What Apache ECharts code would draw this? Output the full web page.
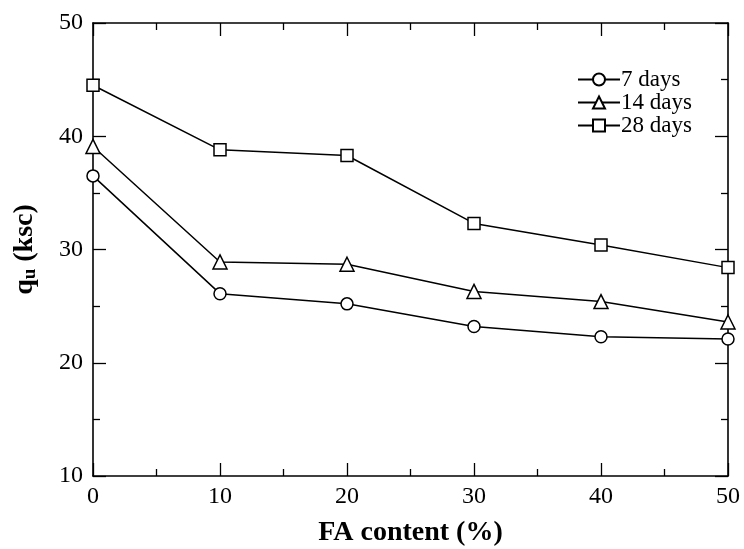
<!DOCTYPE html>
<html>
<head>
<meta charset="utf-8">
<script src="https://cdn.jsdelivr.net/npm/echarts@6/dist/echarts.min.js"></script>
<style>html,body{margin:0;padding:0;background:#fff;}#c{width:744px;height:549px;}</style>
</head>
<body>
<div id="c"></div>
<script>
var categories = [0, 10, 20, 30, 40, 50];
var days7 = [36.5, 26.1, 25.2, 23.2, 22.3, 22.1];
var days14 = [39.1, 28.9, 28.7, 26.3, 25.4, 23.6];
var days28 = [44.5, 38.8, 38.3, 32.3, 30.4, 28.4];
var seriesNames = ['7 days', '14 days', '28 days'];

function pairs(vals) { return categories.map(function (c, i) { return [c, vals[i]]; }); }

var font = 'Liberation Serif, Times New Roman, serif';
var axisCommon = {
  axisLine: { show: true, onZero: false, lineStyle: { color: '#000', width: 1.6 } },
  axisTick: { show: true, inside: true, length: 13, lineStyle: { color: '#000', width: 1.3 } },
  minorTick: { show: true, splitNumber: 2, length: 7, lineStyle: { color: '#000', width: 1.3 } },
  splitLine: { show: false }
};
function ext(o) { return Object.assign({}, axisCommon, o); }

var chart = echarts.init(document.getElementById('c'));
chart.setOption({
  animation: false,
  backgroundColor: '#fff',
  grid: { left: 93, top: 23, right: 16, bottom: 73, containLabel: false, outerBoundsMode: 'none' },
  xAxis: [
    ext({ type: 'value', min: 0, max: 50, interval: 10, position: 'bottom',
      axisLabel: { color: '#000', fontFamily: font, fontSize: 24, margin: 9 },
      name: 'FA content (%)', nameLocation: 'middle', nameGap: 43,
      nameTextStyle: { color: '#000', fontFamily: font, fontSize: 28, fontWeight: 'bold' } }),
    ext({ type: 'value', min: 0, max: 50, interval: 10, position: 'top', axisLabel: { show: false } })
  ],
  yAxis: [
    ext({ type: 'value', min: 10, max: 50, interval: 10, position: 'left',
      axisLabel: { color: '#000', fontFamily: font, fontSize: 24, margin: 10 },
      name: '{a|q}{b|u}{a| (ksc)}', nameLocation: 'middle', nameGap: 53, nameRotate: 90,
      nameTextStyle: { color: '#000', fontFamily: font, fontSize: 28, fontWeight: 'bold',
        rich: {
          a: { fontFamily: font, fontSize: 28, fontWeight: 'bold', color: '#000' },
          b: { fontFamily: font, fontSize: 19, fontWeight: 'bold', color: '#000', padding: [12, 0, 0, 0] }
        } } }),
    ext({ type: 'value', min: 10, max: 50, interval: 10, position: 'right', axisLabel: { show: false } })
  ],
  legend: {
    orient: 'vertical', left: 572, top: 63, itemWidth: 42, itemHeight: 15, itemGap: 0,
    data: seriesNames,
    textStyle: { color: '#000', fontFamily: font, fontSize: 23, lineHeight: 21, padding: [0, 0, 0, -4] }
  },
  series: [
    { name: seriesNames[0], type: 'line', data: pairs(days7), symbol: 'circle', symbolSize: 12 },
    { name: seriesNames[1], type: 'line', data: pairs(days14), symbol: 'triangle', symbolSize: 14 },
    { name: seriesNames[2], type: 'line', data: pairs(days28), symbol: 'rect', symbolSize: 12 }
  ].map(function (s) {
    s.lineStyle = { color: '#000', width: 1.5 };
    s.itemStyle = { color: '#fff', borderColor: '#000', borderWidth: 1.5 };
    s.showAllSymbol = true;
    s.z = 3;
    return s;
  })
});
</script>
</body>
</html>
